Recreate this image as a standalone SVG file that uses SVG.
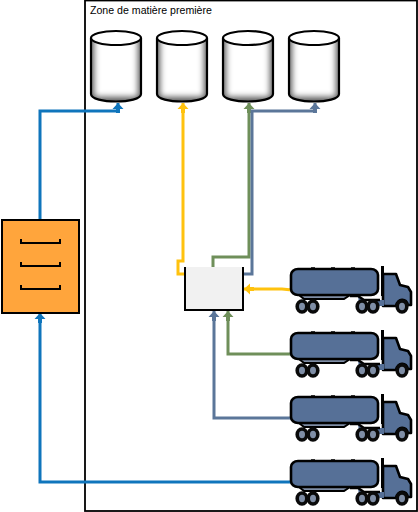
<svg xmlns="http://www.w3.org/2000/svg" width="418" height="512" viewBox="0 0 418 512">
<style>
.c{fill:none;stroke-width:3;stroke-linejoin:miter}
.blue{stroke:#0f75bc}.yellow{stroke:#ffc20e}.green{stroke:#6f8f5a}.slate{stroke:#5b7699}
.t{fill:#567097;stroke:#000;stroke-width:2.6;stroke-linejoin:round}
.w{fill:#7f8ea6;stroke:#0a0a0a;stroke-width:3.6}
text{font-family:"Liberation Sans",Arial,sans-serif;font-size:10.6px;fill:#000}
</style>
<defs>
<marker id="my" markerUnits="userSpaceOnUse" markerWidth="12" markerHeight="12" refX="10" refY="6" orient="auto"><path d="M4,0.500 L10,6 L4,11.500 L4,8 L0,8 L0,4 L4,4 Z" fill="#ffc20e"/></marker>
<marker id="mg" markerUnits="userSpaceOnUse" markerWidth="12" markerHeight="12" refX="10" refY="6" orient="auto"><path d="M4,0.500 L10,6 L4,11.500 L4,8 L0,8 L0,4 L4,4 Z" fill="#6f8f5a"/></marker>
<marker id="ms" markerUnits="userSpaceOnUse" markerWidth="12" markerHeight="12" refX="10" refY="6" orient="auto"><path d="M4,0.500 L10,6 L4,11.500 L4,8 L0,8 L0,4 L4,4 Z" fill="#5b7699"/></marker>
<marker id="mu" markerUnits="userSpaceOnUse" markerWidth="12" markerHeight="12" refX="10" refY="6" orient="auto"><path d="M4,0.500 L10,6 L4,11.500 L4,8 L0,8 L0,4 L4,4 Z" fill="#0f75bc"/></marker>
<filter id="soft" x="-30%" y="-30%" width="160%" height="160%"><feGaussianBlur stdDeviation="3"/></filter>
<clipPath id="cylClip"><path d="M0,8 V64 C0,74 50,74 50,64 V8 Z"/></clipPath>
<g id="cyl">
<path d="M0,8 V64 C0,74 50,74 50,64 V8 Z" fill="#555"/>
<g clip-path="url(#cylClip)"><rect x="3" y="-2" width="44" height="69" fill="#fff" filter="url(#soft)"/></g>
<path d="M0,8 V64 C0,74 50,74 50,64 V8" fill="none" stroke="#000" stroke-width="2.200"/>
<ellipse cx="25" cy="8" rx="25" ry="7" fill="#fff" stroke="#000" stroke-width="2.200"/>
</g>
<g id="truck">
<path d="M299,295 H350 L344,299 H304 Z" fill="#7f8ea6" stroke="#000" stroke-width="2"/>
<path d="M383,274 H396 L400,285 L408,287 L411,292 V305 H408 C406,298 398,298 396,306 H383 Z" class="t"/>
<path d="M358,297 L364,300 H384 V306 H375 C373,298 361,298 359,303 Z" fill="#567097"/>
<path d="M350,296 H358 L364,300 H380" fill="none" stroke="#000" stroke-width="2.500"/>
<path d="M382.500,266 V296" stroke="#000" stroke-width="3" fill="none"/>
<rect x="291" y="269" width="87" height="26" rx="7" ry="6" class="t"/>
<path d="M311,268.500h4M331,268.500h4M351,268.500h4" stroke="#000" stroke-width="2.500"/>
<ellipse cx="302" cy="306.500" rx="4.800" ry="5.500" class="w"/><ellipse cx="313" cy="306.500" rx="4.800" ry="5.500" class="w"/>
<ellipse cx="362" cy="306.500" rx="4.800" ry="5.500" class="w"/><ellipse cx="373" cy="306.500" rx="4.800" ry="5.500" class="w"/><ellipse cx="402" cy="306.500" rx="4.800" ry="5.500" class="w"/>
</g>
</defs>
<rect width="418" height="512" fill="#fff"/>
<rect id="zone" x="85" y="0.500" width="332" height="510.500" fill="none" stroke="#000" stroke-width="1.800"/>
<text x="90" y="14">Zone de matière première</text>
<g id="connectors">
<path class="c blue" d="M40,219 V111 H118 V103" marker-end="url(#mu)"/>
<path class="c blue" d="M291,482 H40 V313" marker-end="url(#mu)"/>
<path class="c yellow" d="M186,274 H178 V261 H183 V103" marker-end="url(#my)"/>
<path class="c green" d="M213,267 V257 H249 V103" marker-end="url(#mg)"/>
<path class="c slate" d="M243,274 H252 V111 H315 V103" marker-end="url(#ms)"/>
<path class="c yellow" d="M292,290 L282,289 H244" marker-end="url(#my)"/>
<path class="c green" d="M291,354 H228 V311" marker-end="url(#mg)"/>
<path class="c slate" d="M291,418 H214 V311" marker-end="url(#ms)"/>
</g>
<g id="tank1"><use href="#cyl" x="91" y="30"/></g>
<g id="tank2"><use href="#cyl" x="157" y="30"/></g>
<g id="tank3"><use href="#cyl" x="223" y="30"/></g>
<g id="tank4"><use href="#cyl" x="289" y="30"/></g>
<g id="mixer"><path d="M185,267 V310 H243 V267" fill="#f1f1f1" stroke="#000" stroke-width="2"/></g>
<g id="storage">
<rect x="2" y="220" width="77" height="93" fill="#ffa53c" stroke="#000" stroke-width="2"/>
<path d="M21,239 V243 H60 V239M21,262 V266 H60 V262M21,285 V289 H60 V285" fill="none" stroke="#000" stroke-width="2"/>
</g>
<g id="truck1"><use href="#truck"/></g>
<g id="truck2"><use href="#truck" y="64"/></g>
<g id="truck3"><use href="#truck" y="128"/></g>
<g id="truck4"><use href="#truck" y="192"/></g>
</svg>
